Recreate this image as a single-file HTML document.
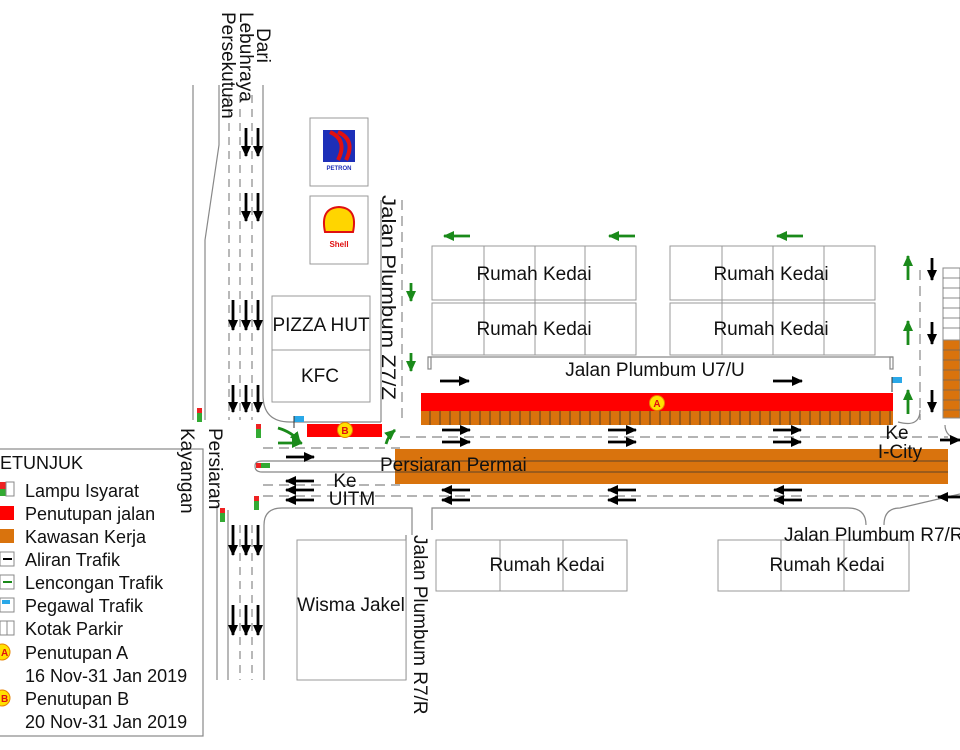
<!DOCTYPE html>
<html><head><meta charset="utf-8"><style>
html,body{margin:0;padding:0;background:#fff;}
svg{display:block;font-family:"Liberation Sans",sans-serif;}
</style></head><body>
<svg width="960" height="750" viewBox="0 0 960 750" xmlns="http://www.w3.org/2000/svg">
<defs>
<marker id="ah" markerWidth="11" markerHeight="10" refX="10" refY="5" orient="auto" markerUnits="userSpaceOnUse"><path d="M0,0 L11,5 L0,10 z" fill="#000"/></marker>
<marker id="ag" markerWidth="11" markerHeight="10" refX="10" refY="5" orient="auto" markerUnits="userSpaceOnUse"><path d="M0,0 L11,5 L0,10 z" fill="#1a8a1a"/></marker>
</defs>
<g stroke="#888" stroke-width="1.2" fill="none">
<line x1="193" y1="85" x2="193" y2="420"/>
<polyline points="219,85 219,145 205,240 205,420"/>
<line x1="263" y1="85" x2="263" y2="395"/>
<path d="M263,395 Q263,422 290,422 L381,422"/>
<line x1="240" y1="95" x2="240" y2="420" stroke-dasharray="8,6"/>
<line x1="252" y1="95" x2="252" y2="420" stroke-dasharray="8,6"/>
<line x1="229" y1="95" x2="229" y2="420" stroke-dasharray="8,6"/>
<line x1="217" y1="505" x2="217" y2="680"/>
<line x1="228" y1="510" x2="228" y2="680"/>
<line x1="240" y1="525" x2="240" y2="680" stroke-dasharray="8,6"/>
<line x1="252" y1="525" x2="252" y2="680" stroke-dasharray="8,6"/>
<path d="M264,680 L264,525 Q264,508 282,508 L412,508 L412,535"/>
<line x1="193" y1="505" x2="193" y2="680"/>
<line x1="263" y1="448" x2="400" y2="448" stroke-dasharray="10,6"/>
<line x1="400" y1="437" x2="948" y2="437" stroke-dasharray="10,6"/>
<path d="M395,461 L262,461 Q255,461 255,466 Q255,472 262,472 L395,472"/>
<line x1="263" y1="485" x2="400" y2="485" stroke-dasharray="10,6"/>
<line x1="263" y1="496" x2="960" y2="496" stroke-dasharray="10,6"/>
<path d="M432,530 L432,508 L848,508 Q866,508 866,525"/>
<path d="M884,525 Q884,508 900,508 L960,494"/>
<line x1="381" y1="200" x2="381" y2="422"/>
<line x1="402" y1="200" x2="402" y2="420" stroke-dasharray="10,6"/>
<line x1="428" y1="357" x2="893" y2="357"/>
<rect x="428" y="357" width="3" height="12"/>
<rect x="890" y="357" width="3" height="12"/>
<line x1="920" y1="270" x2="920" y2="420" stroke-dasharray="10,6"/>
<path d="M898,422 Q920,428 920,410"/>
<path d="M945,425 Q945,437 960,440"/>
<line x1="406" y1="535" x2="406" y2="680"/>
</g>
<g stroke="#999" stroke-width="1" fill="#fff">
<rect x="310" y="118" width="58" height="68"/>
<rect x="310" y="196" width="58" height="68"/>
<rect x="272" y="296" width="98" height="54"/>
<rect x="272" y="350" width="98" height="52"/>
<rect x="432" y="246" width="204" height="54"/>
<rect x="432" y="303" width="204" height="52"/>
<rect x="670" y="246" width="205" height="54"/>
<rect x="670" y="303" width="205" height="52"/>
<line x1="484" y1="246" x2="484" y2="355"/><line x1="535" y1="246" x2="535" y2="355"/><line x1="585" y1="246" x2="585" y2="355"/>
<line x1="722" y1="246" x2="722" y2="355"/><line x1="773" y1="246" x2="773" y2="355"/><line x1="824" y1="246" x2="824" y2="355"/>
<rect x="436" y="540" width="191" height="51"/>
<line x1="500" y1="540" x2="500" y2="591"/><line x1="563" y1="540" x2="563" y2="591"/>
<rect x="718" y="540" width="191" height="51"/>
<line x1="781" y1="540" x2="781" y2="591"/><line x1="844" y1="540" x2="844" y2="591"/>
<rect x="297" y="540" width="109" height="140"/>
</g>
<rect x="323" y="130" width="32" height="32" fill="#1d2fb8"/>
<path d="M330,132 Q348,140 338,160 M338,132 Q356,140 346,160" stroke="#e01010" stroke-width="4" fill="none"/>
<text x="339" y="170" font-size="6" font-weight="bold" fill="#1d2fb8" text-anchor="middle">PETRON</text>
<path d="M325,232 Q320,208 339,207 Q358,208 353,232 z" fill="#ffd500" stroke="#e01010" stroke-width="2"/>
<text x="339" y="247" font-size="8" font-weight="bold" fill="#e01010" text-anchor="middle">Shell</text>
<rect x="307" y="424" width="75" height="13" fill="#f00"/>
<rect x="421" y="393" width="472" height="18" fill="#f00"/>
<rect x="421" y="411" width="472" height="14" fill="#d9730d"/>
<g stroke="#333" stroke-width="0.8">
<path d="M430,411v14M440,411v14M450,411v14M460,411v14M470,411v14M480,411v14M490,411v14M500,411v14M510,411v14M520,411v14M530,411v14M540,411v14M550,411v14M560,411v14M570,411v14M580,411v14M590,411v14M600,411v14M610,411v14M620,411v14M630,411v14M640,411v14M650,411v14M660,411v14M670,411v14M680,411v14M690,411v14M700,411v14M710,411v14M720,411v14M730,411v14M740,411v14M750,411v14M760,411v14M770,411v14M780,411v14M790,411v14M800,411v14M810,411v14M820,411v14M830,411v14M840,411v14M850,411v14M860,411v14M870,411v14M880,411v14M890,411v14"/>
</g>
<rect x="395" y="449" width="553" height="35" fill="#d9730d"/>
<line x1="395" y1="461" x2="948" y2="461" stroke="#333" stroke-width="0.8"/>
<line x1="395" y1="472" x2="948" y2="472" stroke="#333" stroke-width="0.8"/>
<rect x="943" y="268" width="17" height="150" fill="#fff" stroke="#888"/>
<rect x="943" y="340" width="17" height="78" fill="#d9730d" stroke="#888"/>
<g stroke="#666" stroke-width="0.8"><path d="M943,278h17M943,288h17M943,298h17M943,308h17M943,318h17M943,328h17M943,350h17M943,360h17M943,370h17M943,380h17M943,390h17M943,400h17M943,410h17"/></g>
<circle cx="345" cy="430" r="7.5" fill="#ffe100" stroke="#e88000"/><text x="345" y="434" font-size="10" font-weight="bold" fill="#e01010" text-anchor="middle">B</text>
<circle cx="657" cy="403" r="7.5" fill="#ffe100" stroke="#e88000"/><text x="657" y="407" font-size="10" font-weight="bold" fill="#e01010" text-anchor="middle">A</text>
<g fill="#2aa8e8"><path d="M294,416h10v6h-10z"/><path d="M892,377h10v6h-10z"/></g>
<line x1="294" y1="416" x2="294" y2="428" stroke="#333"/><line x1="892" y1="377" x2="892" y2="392" stroke="#333"/>
<g><rect x="197" y="408" width="5" height="14" fill="#3a3"/><rect x="197" y="408" width="5" height="5" fill="#e22"/>
<rect x="256" y="424" width="5" height="14" fill="#3a3"/><rect x="256" y="424" width="5" height="5" fill="#e22"/>
<rect x="256" y="463" width="14" height="5" fill="#3a3"/><rect x="256" y="463" width="5" height="5" fill="#e22"/>
<rect x="254" y="496" width="5" height="14" fill="#3a3"/><rect x="254" y="496" width="5" height="5" fill="#e22"/>
<rect x="220" y="508" width="5" height="14" fill="#3a3"/><rect x="220" y="508" width="5" height="5" fill="#e22"/></g>
<g stroke="#000" stroke-width="2.8" marker-end="url(#ah)">
<line x1="246" y1="128" x2="246" y2="156"/><line x1="258" y1="128" x2="258" y2="156"/>
<line x1="246" y1="193" x2="246" y2="221"/><line x1="258" y1="193" x2="258" y2="221"/>
<line x1="233" y1="300" x2="233" y2="330"/><line x1="246" y1="300" x2="246" y2="330"/><line x1="258" y1="300" x2="258" y2="330"/>
<line x1="233" y1="385" x2="233" y2="412"/><line x1="246" y1="385" x2="246" y2="412"/><line x1="258" y1="385" x2="258" y2="412"/>
<line x1="233" y1="525" x2="233" y2="555"/><line x1="246" y1="525" x2="246" y2="555"/><line x1="258" y1="525" x2="258" y2="555"/>
<line x1="233" y1="605" x2="233" y2="635"/><line x1="246" y1="605" x2="246" y2="635"/><line x1="258" y1="605" x2="258" y2="635"/>
<line x1="286" y1="457" x2="314" y2="457"/>
<line x1="314" y1="481" x2="286" y2="481"/><line x1="314" y1="490" x2="286" y2="490"/><line x1="314" y1="500" x2="286" y2="500"/>
<line x1="440" y1="381" x2="469" y2="381"/><line x1="773" y1="381" x2="802" y2="381"/>
<line x1="442" y1="430" x2="470" y2="430"/><line x1="442" y1="442" x2="470" y2="442"/>
<line x1="608" y1="430" x2="636" y2="430"/><line x1="608" y1="442" x2="636" y2="442"/>
<line x1="773" y1="430" x2="801" y2="430"/><line x1="773" y1="442" x2="801" y2="442"/>
<line x1="470" y1="490" x2="442" y2="490"/><line x1="470" y1="500" x2="442" y2="500"/>
<line x1="636" y1="490" x2="608" y2="490"/><line x1="636" y1="500" x2="608" y2="500"/>
<line x1="802" y1="490" x2="774" y2="490"/><line x1="802" y1="500" x2="774" y2="500"/>
<line x1="960" y1="497" x2="938" y2="497"/>
<line x1="940" y1="440" x2="960" y2="440"/>
<line x1="932" y1="258" x2="932" y2="280"/><line x1="932" y1="322" x2="932" y2="344"/><line x1="932" y1="390" x2="932" y2="412"/>
</g>
<g stroke="#1a8a1a" stroke-width="2.8" fill="none" marker-end="url(#ag)">
<line x1="470" y1="236" x2="444" y2="236"/><line x1="635" y1="236" x2="609" y2="236"/><line x1="803" y1="236" x2="777" y2="236"/>
<line x1="411" y1="283" x2="411" y2="301"/><line x1="411" y1="353" x2="411" y2="371"/>
<line x1="908" y1="280" x2="908" y2="256"/><line x1="908" y1="345" x2="908" y2="321"/><line x1="908" y1="414" x2="908" y2="390"/>
<path d="M278,428 Q292,432 300,442"/><line x1="278" y1="443" x2="302" y2="443"/><path d="M386,444 Q388,436 395,430"/>
</g>
<rect x="-2" y="449" width="205" height="287" fill="#fff" stroke="#888" stroke-width="1.2"/>
<g font-size="19" fill="#111">
<text x="534" y="280" text-anchor="middle">Rumah Kedai</text>
<text x="534" y="335" text-anchor="middle">Rumah Kedai</text>
<text x="771" y="280" text-anchor="middle">Rumah Kedai</text>
<text x="771" y="335" text-anchor="middle">Rumah Kedai</text>
<text x="547" y="571" text-anchor="middle">Rumah Kedai</text>
<text x="827" y="571" text-anchor="middle">Rumah Kedai</text>
<text x="321" y="331" text-anchor="middle">PIZZA HUT</text>
<text x="320" y="382" text-anchor="middle">KFC</text>
<text x="351" y="611" text-anchor="middle">Wisma Jakel</text>
<text x="655" y="376" text-anchor="middle">Jalan Plumbum U7/U</text>
<text x="380" y="471">Persiaran Permai</text>
<text x="345" y="487" text-anchor="middle">Ke</text>
<text x="352" y="505" text-anchor="middle">UITM</text>
<text x="897" y="439" text-anchor="middle">Ke</text>
<text x="900" y="458" text-anchor="middle">I-City</text>
<text x="784" y="541">Jalan Plumbum R7/R</text>
<text transform="translate(382,195) rotate(90)" textLength="205" lengthAdjust="spacingAndGlyphs">Jalan Plumbum Z7/Z</text>
<text transform="translate(414,535) rotate(90)">Jalan Plumbum R7/R</text>
<text transform="translate(257,28) rotate(90)">Dari</text>
<text transform="translate(240,12) rotate(90)">Lebuhraya</text>
<text transform="translate(222,12) rotate(90)">Persekutuan</text>
<text transform="translate(209,428) rotate(90)">Persiaran</text>
<text transform="translate(181,428) rotate(90)">Kayangan</text>
</g>
<g font-size="18" fill="#111">
<text x="0" y="469">ETUNJUK</text>
<text x="25" y="497">Lampu Isyarat</text>
<text x="25" y="520">Penutupan jalan</text>
<text x="25" y="543">Kawasan Kerja</text>
<text x="25" y="566">Aliran Trafik</text>
<text x="25" y="589">Lencongan Trafik</text>
<text x="25" y="612">Pegawal Trafik</text>
<text x="25" y="635">Kotak Parkir</text>
<text x="25" y="659">Penutupan A</text>
<text x="25" y="682">16 Nov-31 Jan 2019</text>
<text x="25" y="705">Penutupan B</text>
<text x="25" y="728">20 Nov-31 Jan 2019</text>
</g>
<rect x="0" y="482" width="6" height="14" fill="#e22"/><rect x="0" y="489" width="6" height="7" fill="#3a3"/><rect x="6" y="482" width="8" height="14" fill="#fff" stroke="#888"/>
<rect x="0" y="506" width="14" height="14" fill="#f00"/>
<rect x="0" y="529" width="14" height="14" fill="#d9730d"/>
<rect x="0" y="552" width="14" height="14" fill="#fff" stroke="#888"/><line x1="3" y1="559" x2="12" y2="559" stroke="#000" stroke-width="2"/>
<rect x="0" y="575" width="14" height="14" fill="#fff" stroke="#888"/><line x1="3" y1="582" x2="12" y2="582" stroke="#1a8a1a" stroke-width="2"/>
<rect x="0" y="598" width="14" height="14" fill="#fff" stroke="#888"/><rect x="2" y="600" width="8" height="4" fill="#2aa8e8"/>
<rect x="0" y="621" width="14" height="14" fill="#fff" stroke="#888"/><line x1="7" y1="621" x2="7" y2="635" stroke="#888"/>
<circle cx="2" cy="652" r="8" fill="#ffe100" stroke="#e88000"/><text x="1" y="656" font-size="10" fill="#e01010" font-weight="bold">A</text>
<circle cx="2" cy="698" r="8" fill="#ffe100" stroke="#e88000"/><text x="1" y="702" font-size="10" fill="#e01010" font-weight="bold">B</text>
</svg>
</body></html>
